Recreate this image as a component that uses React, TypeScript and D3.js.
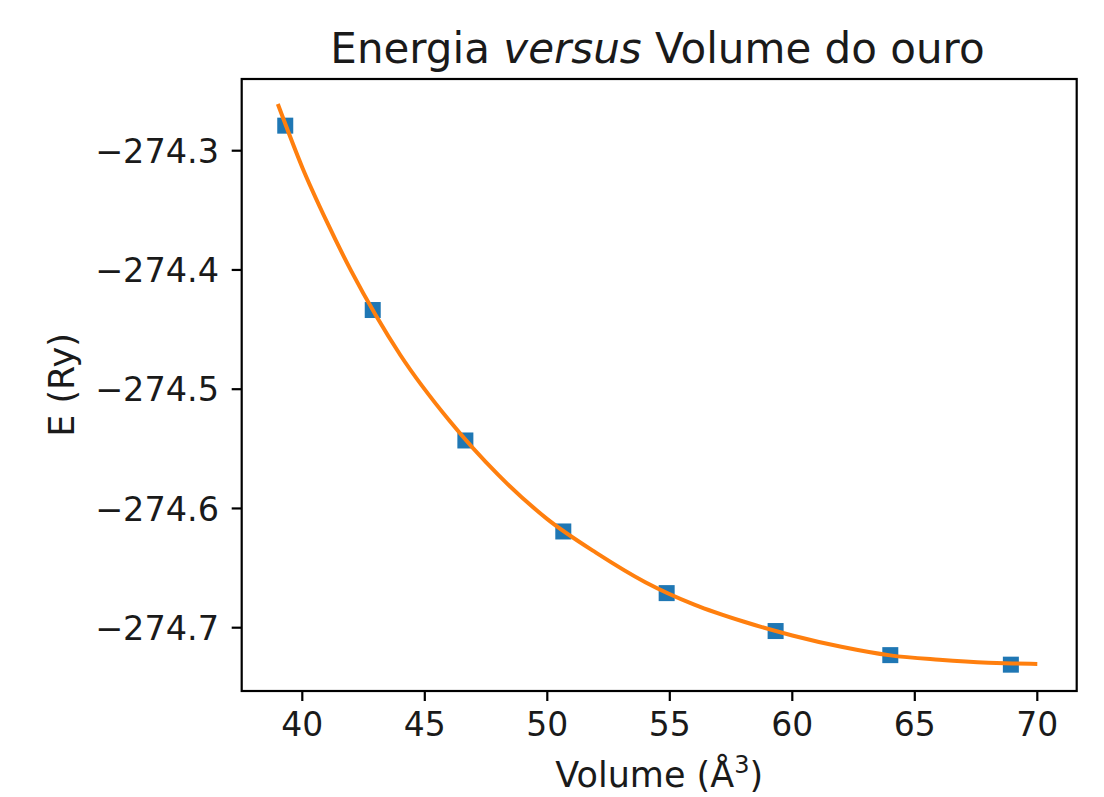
import React from "react";
import * as d3 from "d3";

// Data points (volume in Å^3, energy in Ry)
const volumes = [39.304, 42.875, 46.656, 50.653, 54.872, 59.319, 64.0, 68.921];
const energies = [-274.279, -274.4336, -274.543, -274.6193, -274.671, -274.7028, -274.723, -274.731];

// Fitted curve samples
const fitVolumes = [39.0, 40, 41, 42, 43, 44, 46, 48, 50, 52, 54, 56, 58, 60, 62, 64, 66, 68, 69, 70];
const fitEnergies = [
  -274.2608, -274.314, -274.3595, -274.401, -274.438, -274.4713, -274.5263, -274.5719,
  -274.6089, -274.6372, -274.6618, -274.6806, -274.6948, -274.7065, -274.716, -274.7232,
  -274.7268, -274.7293, -274.73, -274.7304,
];

const xTicks = [40, 45, 50, 55, 60, 65, 70];
const yTicks = [-274.3, -274.4, -274.5, -274.6, -274.7];

const W = 1104;
const H = 797;
const left = 241.7;
const right = 1076.7;
const top = 79;
const bottom = 691;

export default function App() {
  const x = d3.scaleLinear().domain([40, 70]).range([302.3, 1037.3]);
  const y = d3.scaleLinear().domain([-274.3, -274.7]).range([150.7, 627.7]);

  const line = d3
    .line<number>()
    .x((_, i) => x(fitVolumes[i]))
    .y((d) => y(d))
    .curve(d3.curveMonotoneX);

  const fmtY = (v: number) => d3.format(".1f")(v).replace("-", "\u2212");
  const font = "DejaVu Sans, sans-serif";
  const ms = 16;

  return (
    <svg
      width={W}
      height={H}
      style={{ position: "absolute", left: 0, top: 0, background: "#fff" }}
      fontFamily={font}
    >
      <rect x={0} y={0} width={W} height={H} fill="#fff" />
      <defs>
        <clipPath id="plotclip">
          <rect x={left} y={top} width={right - left} height={bottom - top} />
        </clipPath>
      </defs>
      {/* markers */}
      <g clipPath="url(#plotclip)">
        {volumes.map((v, i) => (
          <rect
            key={i}
            x={x(v) - ms / 2}
            y={y(energies[i]) - ms / 2}
            width={ms}
            height={ms}
            fill="#1f77b4"
          />
        ))}
        <path
          d={line(fitEnergies) || ""}
          fill="none"
          stroke="#ff7f0e"
          strokeWidth={4}
          strokeLinejoin="round"
          strokeLinecap="butt"
        />
      </g>
      {/* spines */}
      <rect
        x={left}
        y={top}
        width={right - left}
        height={bottom - top}
        fill="none"
        stroke="#000"
        strokeWidth={2.2}
      />
      {/* x ticks */}
      {xTicks.map((t) => (
        <g key={t}>
          <line x1={x(t)} x2={x(t)} y1={bottom} y2={bottom + 10} stroke="#000" strokeWidth={2.2} />
          <text x={x(t)} y={735.5} textAnchor="middle" fontSize={33} fill="#1a1a1a">
            {t}
          </text>
        </g>
      ))}
      {/* y ticks */}
      {yTicks.map((t) => (
        <g key={t}>
          <line x1={left - 10} x2={left} y1={y(t)} y2={y(t)} stroke="#000" strokeWidth={2.2} />
          <text
            x={219}
            y={y(t)}
            dy="0.36em"
            textAnchor="end"
            fontSize={33.5}
            fill="#1a1a1a"
          >
            {fmtY(t)}
          </text>
        </g>
      ))}
      {/* title */}
      <text x={657.5} y={63} textAnchor="middle" fontSize={42} fill="#1a1a1a">
        <tspan>Energia </tspan>
        <tspan fontStyle="italic">versus</tspan>
        <tspan> Volume do ouro</tspan>
      </text>
      {/* x label */}
      <text x={(left + right) / 2} y={786.5} textAnchor="middle" fontSize={35} fill="#1a1a1a">
        <tspan>Volume (Å</tspan>
        <tspan fontSize={24} dy={-14}>3</tspan>
        <tspan dy={14}>)</tspan>
      </text>
      {/* y label */}
      <text
        transform={`translate(74, ${(top + bottom) / 2}) rotate(-90)`}
        textAnchor="middle"
        fontSize={35}
        fill="#1a1a1a"
      >
        E (Ry)
      </text>
    </svg>
  );
}
